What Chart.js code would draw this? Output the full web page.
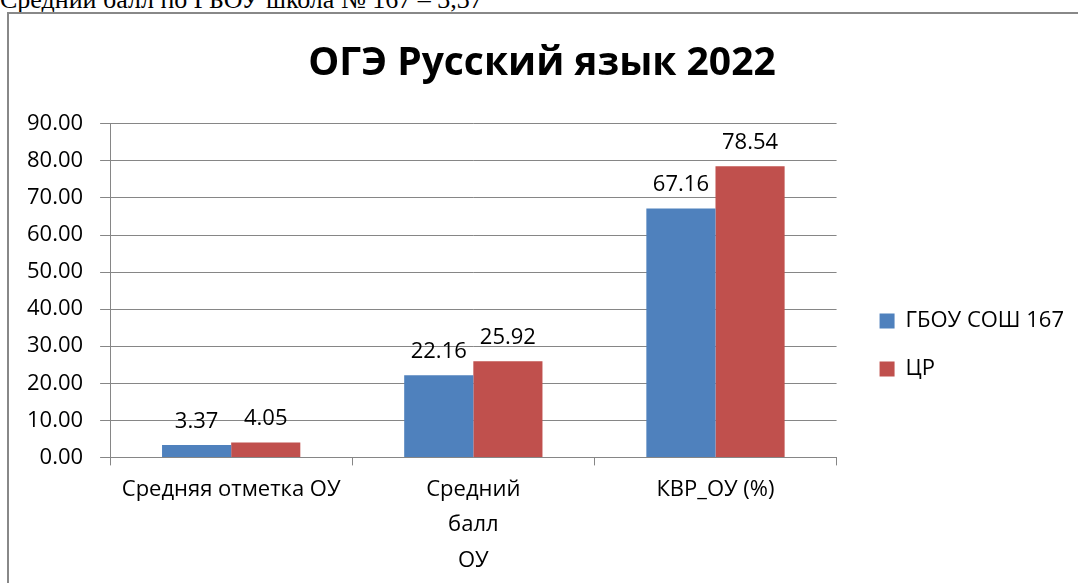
<!DOCTYPE html>
<html lang="ru">
<head>
<meta charset="utf-8">
<title>ОГЭ Русский язык 2022</title>
<script src="https://cdn.jsdelivr.net/npm/chart.js@4/dist/chart.umd.min.js"></script>
<style>
    html, body { margin: 0; padding: 0; background: #fff; overflow: hidden; }
    #note {
        position: absolute; left: 0; top: -13px;
        font-family: 'Liberation Serif', 'Times New Roman', serif;
        font-size: 26px; line-height: 26px; color: #000; white-space: nowrap;
    }
    #frame {
        position: absolute; left: 7px; top: 12px; width: 1200px; height: 700px;
        border-left: 2px solid #888; border-top: 2px solid #888;
    }
    #wrap { position: absolute; left: 0; top: 0; width: 1078px; height: 583px; }
</style>
</head>
<body>
<div id="note">Средний балл по ГБОУ школа № 167 – 3,37</div>
<div id="frame"></div>
<div id="wrap"><canvas id="ogeChart" width="1078" height="583"></canvas></div>
<script>
// данные диаграммы
var categories = ['Средняя отметка ОУ', ['Средний', 'балл', 'ОУ'], 'КВР_ОУ (%)'];
var schoolValues = [3.37, 22.16, 67.16];
var districtValues = [4.05, 25.92, 78.54];
var seriesNames = ['ГБОУ СОШ 167', 'ЦР'];
var yTicks = [0, 10, 20, 30, 40, 50, 60, 70, 80, 90];

Chart.defaults.font.family = "'Open Sans', sans-serif";
Chart.defaults.color = '#000';

// подписи значений над столбцами
var valueLabels = {
    id: 'valueLabels',
    afterDatasetsDraw: function(chart) {
        var ctx = chart.ctx;
        ctx.save();
        ctx.font = "22px 'Open Sans', sans-serif";
        ctx.fillStyle = '#000';
        ctx.textAlign = 'center';
        ctx.textBaseline = 'alphabetic';
        chart.data.datasets.forEach(function(ds, i) {
            chart.getDatasetMeta(i).data.forEach(function(bar, j) {
                ctx.fillText(ds.data[j].toFixed(2), bar.x, bar.y - 17);
            });
        });
        ctx.restore();
    }
};

var gridColor = '#868686';

new Chart(document.getElementById('ogeChart'), {
    type: 'bar',
    data: {
        labels: categories,
        datasets: [{
            label: seriesNames[0],
            data: schoolValues,
            backgroundColor: '#4F81BD'
        }, {
            label: seriesNames[1],
            data: districtValues,
            backgroundColor: '#C0504D'
        }]
    },
    options: {
        responsive: false,
        animation: false,
        events: [],
        categoryPercentage: 0.571,
        barPercentage: 1,
        layout: { padding: { left: 10, right: 4, top: 0, bottom: -2 } },
        plugins: {
            title: {
                display: true,
                text: 'ОГЭ Русский язык 2022',
                font: { size: 39, weight: 'bold' },
                color: '#000',
                padding: { top: 40, bottom: 37 }
            },
            legend: {
                position: 'right',
                maxWidth: 300,
                title: { display: true, text: '', font: { size: 10 }, padding: { top: 0, bottom: 93 } },
                labels: {
                    boxWidth: 15,
                    boxHeight: 15,
                    padding: 26,
                    font: { size: 22 },
                    color: '#000'
                }
            },
            tooltip: { enabled: false }
        },
        scales: {
            x: {
                grid: { display: true, drawOnChartArea: false, drawTicks: true, tickLength: 8, color: gridColor },
                border: { color: gridColor },
                ticks: { font: { size: 22, lineHeight: 1.6 }, padding: 7, maxRotation: 0, autoSkip: false, color: '#000' }
            },
            y: {
                min: yTicks[0],
                max: yTicks[yTicks.length - 1],
                afterBuildTicks: function(scale) {
                    scale.ticks = yTicks.map(function(v) { return { value: v }; });
                },
                grid: { color: gridColor, tickLength: 10 },
                border: { color: gridColor },
                ticks: {
                    font: { size: 22 },
                    padding: 17,
                    color: '#000',
                    callback: function(value) { return Number(value).toFixed(2); }
                }
            },
            gap: {
                type: 'linear',
                position: 'right',
                display: true,
                grid: { display: false },
                border: { display: false },
                ticks: { display: false },
                afterFit: function(scale) { scale.width = 17; }
            }
        }
    },
    plugins: [valueLabels]
});
</script>
</body>
</html>
